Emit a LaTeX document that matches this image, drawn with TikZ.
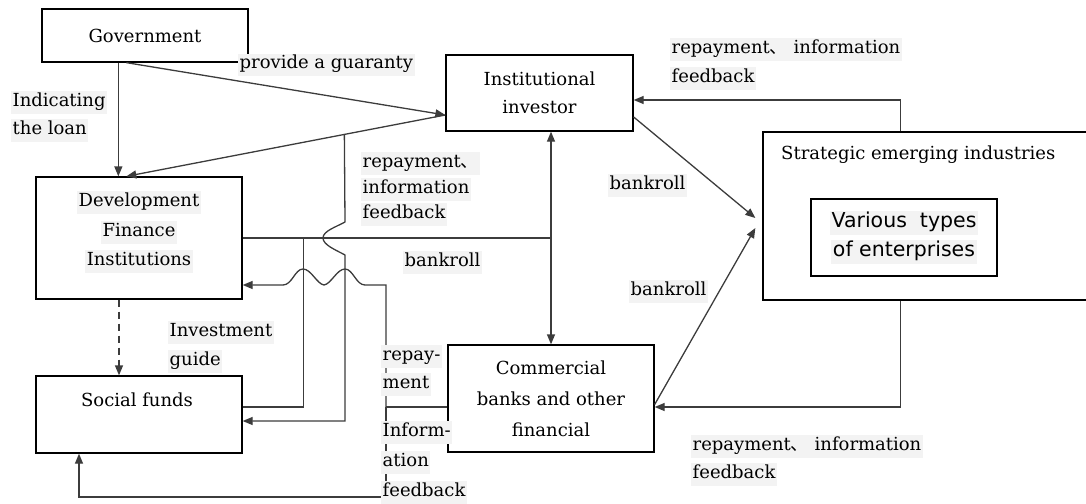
\documentclass[tikz,border=0pt]{standalone}
\usepackage{fontspec}
\setmainfont{DejaVu Serif}
\newfontfamily\entfont{DejaVu Sans}
\newfontfamily\cjkfont{Noto Sans CJK SC}
\usetikzlibrary{arrows.meta,calc}
\definecolor{hlbg}{RGB}{243,243,243}
\definecolor{ln}{RGB}{60,60,60}
% light grey highlight behind a line of text
\newcommand\hl[1]{{\setlength\fboxsep{1.5pt}\colorbox{hlbg}{\rule[-6pt]{0pt}{20pt}#1}}}
\newcommand\dun{{\cjkfont 、}}
\begin{document}
\begin{tikzpicture}[x=1pt, y=-1pt,
  font=\fontsize{18}{29}\selectfont,
  box/.style={draw, line width=1.3pt, inner sep=0pt, align=center},
  conn/.style={line width=1.3pt, draw=ln},
  arr/.style={conn, -{Triangle[length=10pt,width=8pt]}},
  biarr/.style={conn, {Triangle[length=10pt,width=8pt]}-{Triangle[length=10pt,width=8pt]}},
  lab/.style={inner sep=0pt, align=left, anchor=west},
  mlab/.style={inner sep=0pt, align=left, anchor=north west}]
\useasboundingbox (0,0) rectangle (1086,503);

% ---- boxes ----
\node[box, minimum width=206pt, minimum height=53pt] (gov) at (145,35.5) {Government};
\node[box, minimum width=187pt, minimum height=76pt, font=\fontsize{18}{28}\selectfont] (inv) at (539.5,93) {Institutional\\investor};
\node[box, minimum width=206pt, minimum height=122pt] (dfi) at (139,238) {};
\node[align=center, inner sep=0pt, font=\fontsize{18}{29.5}\selectfont] (dfit) at (139,232) {\hl{Development}\\\hl{Finance}\\\hl{Institutions}};
\node[box, minimum width=206pt, minimum height=77pt] (sf) at (139,414.5) {};
\node[inner sep=0pt] (sft) at (137,400) {Social funds};
\node[box, minimum width=206pt, minimum height=107pt, font=\fontsize{18}{31}\selectfont] (cb) at (551,398.5) {Commercial\\banks and other\\financial};
\node[box, minimum width=327pt, minimum height=168pt] (sei) at (926.5,216) {};
\node[lab] (seit) at (781,155) {Strategic emerging industries};
\node[box, minimum width=186pt, minimum height=77pt, font=\entfont\fontsize{20.5}{29}\selectfont] (ent) at (904,237.5) {\hl{Various\ \ types}\\\hl{of enterprises}};

% ---- connectors ----
% government indicates the loan
\draw[arr] ([xshift=77pt]gov.south west) -- ([xshift=83pt]dfi.north west);
% guaranty and back to development finance
\draw[arr] ([xshift=85pt]gov.south west) -- ([yshift=-22pt]inv.west);
\draw[arr] ([yshift=-22pt]inv.west) -- ([xshift=91pt]dfi.north west);
\coordinate (fbtop) at ($([yshift=-22pt]inv.west)!0.3166!([xshift=91pt]dfi.north west)$);

% bankroll between institutions
\draw[biarr] (cb.north |- inv.south) -- (cb.north);
\draw[conn] (dfi.east) -- (dfi.east -| cb.north);
\draw[conn] ([xshift=61pt]dfi.east) |- ([yshift=7.5pt]sf.east);

% feedback line hopping over the bankroll line
\draw[arr] (fbtop) -- (345,222)
  .. controls (336,227) and (323,231) .. (323,238)
  .. controls (323,245) and (336,250) .. (345,255)
  |- ([yshift=-6.5pt]sf.east);

% repayment and information from commercial banks
\coordinate (jn) at (386,407);
\draw[conn] ([yshift=-8.5pt]cb.west) -- (jn);
\draw[arr] (jn) -- (386,285) -- (365,285)
  .. controls (356,285) and (353,269) .. (345,269)
  .. controls (337,269) and (331,284) .. (324,285)
  .. controls (317,284) and (311,269) .. (303,269)
  .. controls (295,269) and (292,285) .. (283,285)
  -- ([yshift=-47pt]dfi.east);
\draw[arr] (jn) -- (386,497) -| ([xshift=-60pt]sf.south);

% investment guide
\draw[arr, dash pattern=on 7pt off 5pt] ([xshift=-20pt]dfi.south) -- ([xshift=-20pt]sf.north);

% bankroll into the industries
\draw[arr] ([yshift=-24pt]inv.east) -- ([xshift=-7pt,yshift=-2pt]sei.west);
\draw[arr] ([yshift=-6pt]cb.east) -- ([xshift=-7pt,yshift=-12pt]sei.west);

% feedback from the industries
\draw[arr] ([xshift=138pt]sei.north west) |- ([yshift=-7pt]inv.east);
\draw[arr] ([xshift=138pt]sei.south west) |- ([yshift=-8.5pt]cb.east);

% ---- labels ----
\node[lab] (l-guar) at (238,65) {\hl{provide a guaranty}};
\node[mlab, font=\fontsize{18}{28}\selectfont] (l-ind) at (11,91) {\hl{Indicating}\\\hl{the loan}};
\node[mlab, font=\fontsize{18}{25.5}\selectfont] (l-fb1) at (361,152) {\hl{repayment\dun}\\\hl{information}\\\hl{feedback}};
\node[lab] (l-bk1) at (403,262) {\hl{bankroll}};
\node[mlab] (l-ig) at (168,321) {\hl{Investment}\\\hl{guide}};
\node[mlab, font=\fontsize{18}{28}\selectfont] (l-rep) at (381,345) {\hl{repay-}\\\hl{ment}};
\node[mlab, font=\fontsize{18}{30}\selectfont] (l-inf) at (381,421) {\hl{Inform-}\\\hl{ation}\\\hl{feedback}};
\node[lab] (l-bk2) at (608,185) {\hl{bankroll}};
\node[lab] (l-bk3) at (629,291) {\hl{bankroll}};
\node[mlab] (l-fbt) at (670,38) {\hl{repayment\dun\ information}\\\hl{feedback}};
\node[mlab, font=\fontsize{18}{28}\selectfont] (l-fbb) at (691,435) {\hl{repayment\dun\ information}\\\hl{feedback}};
\end{tikzpicture}
\end{document}
